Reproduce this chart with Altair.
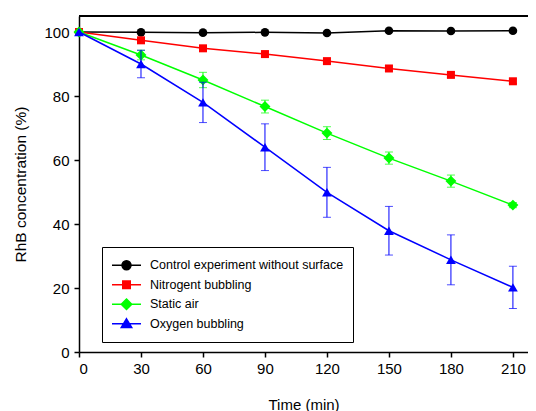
import altair as alt
import pandas as pd

time = [0, 30, 60, 90, 120, 150, 180, 210]
series = ["Control experiment without surface", "Nitrogent bubbling", "Static air", "Oxygen bubbling"]
control = [100, 99.9, 99.8, 99.9, 99.7, 100.4, 100.3, 100.4]
control_err = [0, 0, 0, 0, 0, 0, 0, 0]
nitrogen = [100, 97.4, 94.9, 93.1, 90.9, 88.6, 86.6, 84.6]
nitrogen_err = [0, 0.8, 0.8, 0.7, 0.7, 0.8, 0.8, 0.7]
static = [100, 92.8, 85.0, 76.7, 68.4, 60.6, 53.4, 45.9]
static_err = [0, 1.5, 2.4, 2.0, 2.0, 1.9, 1.9, 0.8]
oxygen = [100, 90.0, 78.0, 64.0, 49.9, 37.9, 28.8, 20.2]
oxygen_err = [0, 4.3, 6.3, 7.3, 7.8, 7.6, 7.8, 6.6]

colors = ["#000000", "#ff0000", "#00ff00", "#0000ff"]
shapes = ["circle", "square", "diamond", "triangle-up"]
marker_sizes = [75, 64, 120, 95]
legend_paths = [
    "M-1,0H1M-0.31,0A0.31,0.31 0 1,0 0.31,0A0.31,0.31 0 1,0 -0.31,0Z",
    "M-1,0H1M-0.26,-0.26H0.26V0.26H-0.26Z",
    "M-1,0H1M0,-0.36L0.36,0L0,0.36L-0.36,0Z",
    "M-1,0H1M0,-0.34L0.36,0.26H-0.36Z",
]

rows = []
for name, vals, errs in zip(series, [control, nitrogen, static, oxygen],
                            [control_err, nitrogen_err, static_err, oxygen_err]):
    for t, v, e in zip(time, vals, errs):
        rows.append({"time": t, "value": v, "err": e, "lo": v - e, "hi": v + e, "series": name})
df = pd.DataFrame(rows)

W, H = 449, 336
xscale = alt.Scale(domain=[0, 217.3], nice=False, zero=False)
yscale = alt.Scale(domain=[0, 105], nice=False)

xenc = alt.X("time:Q", scale=xscale,
             axis=alt.Axis(values=time, title="Time (min)", labelPadding=4, titlePadding=21,
                           grid=False, titleFontSize=15))
yenc = alt.Y("value:Q", scale=yscale,
             axis=alt.Axis(values=[0, 20, 40, 60, 80, 100], title="RhB concentration (%)",
                           labelPadding=5, titlePadding=15, grid=False, titleFontSize=15.5))

base = alt.Chart(df)

layers = []
top_line = base.mark_rule(color="black", strokeWidth=1.5).encode(
    x=alt.value(0), x2=alt.value(W), y=alt.value(0))
layers.append(top_line)

for name, col, shp, sz in zip(series, colors, shapes, marker_sizes):
    sub = base.transform_filter(alt.datum.series == name)
    errd = sub.transform_filter(alt.datum.err > 0)
    rule = errd.mark_rule(color=col, strokeWidth=1).encode(
        x=alt.X("time:Q", scale=xscale), y=alt.Y("lo:Q", scale=yscale), y2="hi:Q")
    cap_lo = errd.mark_tick(color=col, orient="horizontal", size=8, thickness=1).encode(
        x=alt.X("time:Q", scale=xscale), y=alt.Y("lo:Q", scale=yscale))
    cap_hi = errd.mark_tick(color=col, orient="horizontal", size=8, thickness=1).encode(
        x=alt.X("time:Q", scale=xscale), y=alt.Y("hi:Q", scale=yscale))
    line = sub.mark_line(strokeWidth=1.5, color=col).encode(x=xenc, y=yenc)
    pts = sub.mark_point(filled=True, shape=shp, color=col, size=sz, opacity=1).encode(
        x=alt.X("time:Q", scale=xscale), y=alt.Y("value:Q", scale=yscale))
    layers += [rule, cap_lo, cap_hi, line, pts]

legend = alt.Legend(title=None, orient="none", legendX=23, legendY=231,
                    strokeColor="black", fillColor="white", padding=9,
                    labelFont="Liberation Sans", labelFontSize=12.5, labelColor="black",
                    symbolSize=841, symbolStrokeWidth=1.5, symbolOpacity=1,
                    clipHeight=18.5, rowPadding=0.5, labelOffset=8, labelLimit=400)
legend_layer = base.mark_point(opacity=0, filled=True).encode(
    x=alt.X("time:Q", scale=xscale), y=alt.Y("value:Q", scale=yscale),
    fill=alt.Fill("series:N", scale=alt.Scale(domain=series, range=colors), legend=legend),
    stroke=alt.Stroke("series:N", scale=alt.Scale(domain=series, range=colors), legend=legend),
    shape=alt.Shape("series:N", scale=alt.Scale(domain=series, range=legend_paths), legend=legend),
)
layers.append(legend_layer)

chart = alt.layer(*layers).properties(
    width=W, height=H,
    autosize=alt.AutoSizeParams(type="none"),
    padding={"left": 71, "top": 8, "right": 0, "bottom": 59},
).configure_view(stroke=None).configure_axis(
    domainColor="black", domainWidth=1.5, tickColor="black", tickWidth=1.5, tickSize=5,
    labelFont="Liberation Sans", labelFontSize=15, labelColor="black",
    titleFont="Liberation Sans", titleColor="black", titleFontWeight="normal",
)

chart.save("out.html", embed_options={"renderer": "svg", "actions": False})
